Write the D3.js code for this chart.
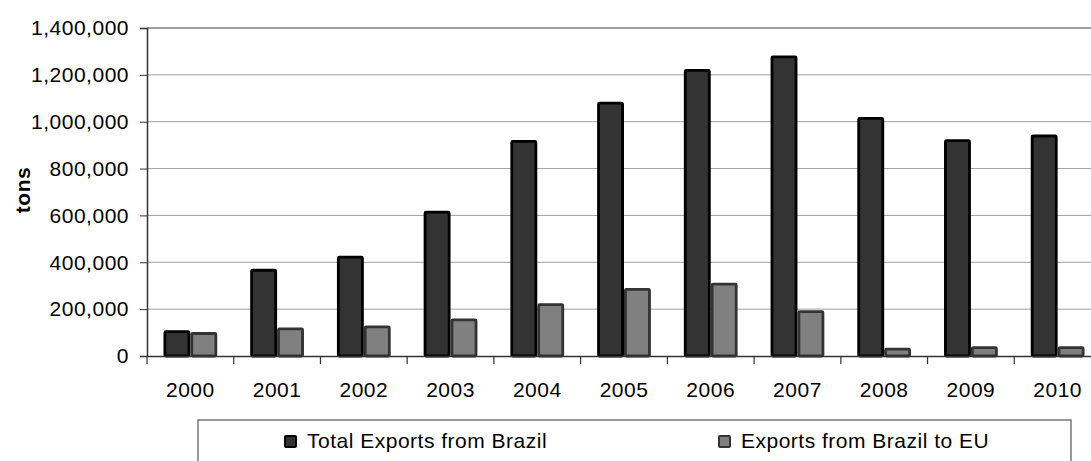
<!DOCTYPE html>
<html>
<head>
<meta charset="utf-8">
<script src="https://cdn.jsdelivr.net/npm/d3@7/dist/d3.min.js"></script>
<style>
  html, body { margin: 0; padding: 0; background: #fff; }
  svg { display: block; font-family: "Liberation Sans", Arial, sans-serif; }
  text { letter-spacing: 0.5px; }
</style>
</head>
<body>
<svg id="chart" width="1091" height="461"></svg>
<script>
const years = ["2000","2001","2002","2003","2004","2005","2006","2007","2008","2009","2010"];
const totalExports = [110000, 372000, 428000, 620000, 922000, 1085000, 1225000, 1283000, 1020000, 925000, 945000];
const euExports = [102000, 122000, 130000, 160000, 225000, 290000, 313000, 195000, 35000, 42000, 42000];
const yTicks = [0, 200000, 400000, 600000, 800000, 1000000, 1200000, 1400000];
const seriesNames = ["Total Exports from Brazil", "Exports from Brazil to EU"];
const seriesFill = ["#333333", "#808080"];
const seriesStroke = ["#000000", "#333333"];

const svg = d3.select("#chart");
const m = { left: 147, right: 1101, top: 28, bottom: 356 };

const x0 = d3.scaleBand().domain(years).range([m.left, m.right]).padding(0);
const bw = x0.bandwidth();
const x1 = d3.scaleBand().domain([0, 1]).range([bw * 0.19, bw * 0.81]).padding(0);
const y = d3.scaleLinear().domain([0, 1400000]).range([m.bottom, m.top]);

// gridlines
svg.append("g")
  .selectAll("line")
  .data(yTicks.filter(d => d > 0))
  .join("line")
  .attr("x1", m.left).attr("x2", m.right)
  .attr("y1", d => y(d)).attr("y2", d => y(d))
  .attr("stroke", d => d === 1400000 ? "#808080" : "#a0a0a0")
  .attr("stroke-width", d => d === 1400000 ? 1.5 : 1);

// y axis
const yAxis = d3.axisLeft(y).tickValues(yTicks).tickSize(7).tickPadding(11)
  .tickFormat(d3.format(","));
const gy = svg.append("g").attr("transform", `translate(${m.left},0)`).call(yAxis);
gy.select(".domain").attr("stroke", "#333").attr("stroke-width", 1.5);
gy.selectAll(".tick line").attr("stroke", "#333");
gy.selectAll("text").attr("font-size", 21).attr("fill", "#000")
  .attr("font-family", "Liberation Sans, Arial, sans-serif");

// bars
const data = years.map((yr, i) => ({ yr, vals: [totalExports[i], euExports[i]] }));
const sw = 2.8;
const groups = svg.append("g").selectAll("g").data(data).join("g")
  .attr("transform", d => `translate(${x0(d.yr)},0)`);
groups.selectAll("rect")
  .data(d => d.vals.map((v, k) => ({ v, k })))
  .join("rect")
  .attr("x", d => x1(d.k) + sw / 2)
  .attr("width", x1.bandwidth() - sw)
  .attr("y", d => y(d.v) + sw / 2)
  .attr("height", d => Math.max(0, y(0) - y(d.v) - sw / 2))
  .attr("rx", 1)
  .attr("fill", d => seriesFill[d.k])
  .attr("stroke", d => seriesStroke[d.k])
  .attr("stroke-width", sw);

// x axis
const xAxis = d3.axisBottom(x0).tickSize(0).tickPadding(0);
const gx = svg.append("g").attr("transform", `translate(0,${m.bottom})`).call(xAxis);
gx.select(".domain").attr("stroke", "#333").attr("stroke-width", 1.5);
gx.selectAll("text").attr("font-size", 21).attr("fill", "#000")
  .attr("dy", null).attr("y", 41)
  .attr("font-family", "Liberation Sans, Arial, sans-serif");
// category boundary ticks
svg.append("g").selectAll("line")
  .data(years.concat(["end"]))
  .join("line")
  .attr("x1", (d, i) => m.left + i * bw).attr("x2", (d, i) => m.left + i * bw)
  .attr("y1", m.bottom).attr("y2", m.bottom + 8)
  .attr("stroke", "#333").attr("stroke-width", 1.2);

// y axis title
svg.append("text")
  .attr("transform", "translate(30,190) rotate(-90)")
  .attr("text-anchor", "middle")
  .attr("font-size", 21).attr("font-weight", "bold")
  .text("tons");

// legend
const lg = svg.append("g");
lg.append("rect")
  .attr("x", 198).attr("y", 420).attr("width", 873).attr("height", 80)
  .attr("fill", "#fff").attr("stroke", "#777").attr("stroke-width", 1.5);
const legendX = [284, 718];
seriesNames.forEach((name, k) => {
  lg.append("rect")
    .attr("x", legendX[k] + 1).attr("y", 436).attr("width", 11).attr("height", 11)
    .attr("rx", 1)
    .attr("fill", seriesFill[k]).attr("stroke", seriesStroke[k]).attr("stroke-width", 2);
  lg.append("text")
    .attr("x", legendX[k] + 23).attr("y", 448)
    .attr("font-size", 21)
    .text(name);
});
</script>
</body>
</html>
